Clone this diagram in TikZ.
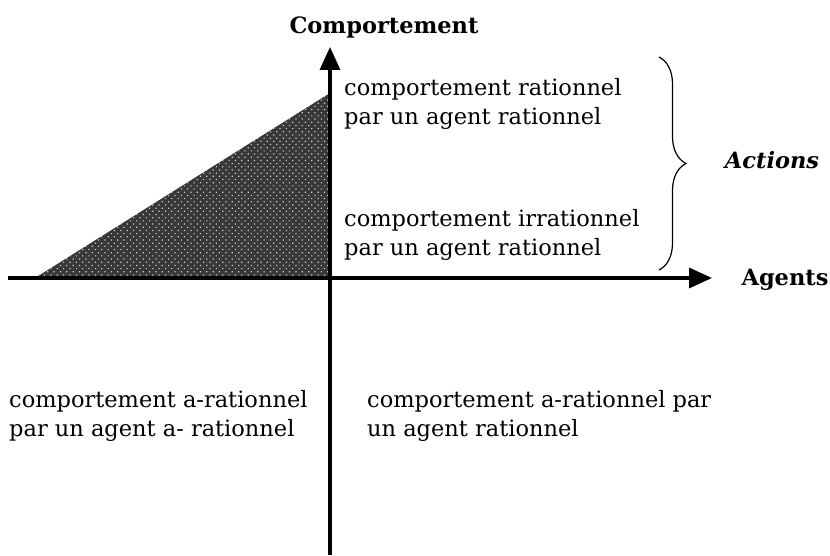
\documentclass[tikz,border=0pt]{standalone}
\usepackage{fontspec}
\setmainfont{DejaVu Serif}
\usetikzlibrary{arrows.meta,patterns.meta,decorations.pathreplacing}

\begin{document}
\begin{tikzpicture}[
  x=1pt,y=1pt,
  axis/.style={line width=3.5pt,-{Triangle[length=23pt,width=20pt]}},
  quad/.style={align=left,anchor=west,inner sep=0pt,
    font=\fontsize{22.5}{29.5}\selectfont},
  axlabel/.style={inner sep=0pt,font=\fontsize{22.5}{26}\selectfont\bfseries}
]
\useasboundingbox (0,0) rectangle (830,555);
% axes
\coordinate (O) at (330,277);
\coordinate (xl) at (8,277);
\coordinate (xr) at (712,277);
\coordinate (yb) at (330,0);
\coordinate (yt) at (330,508);
\coordinate (tl) at (35,277);
\coordinate (tt) at (330,462);
\fill[black!78] (tl) -- (O) -- (tt) -- cycle;
\fill[pattern={Dots[distance=4.5pt,radius=0.85pt,angle=45]},pattern color=white!80!black]
  (tl) -- (O) -- (tt) -- cycle;
\draw[axis] (xl) -- (xr);
\draw[axis] (yb) -- (yt);

\node[axlabel] (comp) at (384,528) {Comportement};
\node[axlabel] (agents) at (785,275) {Agents};

\node[quad] (rr) at (344,451) {comportement rationnel\\par un agent rationnel};
\node[quad] (ir) at (344,320) {comportement irrationnel\\par un agent rationnel};
\node[quad] (aa) at (9,139) {comportement a-rationnel\\par un agent a- rationnel};
\node[quad] (ar) at (367,139) {comportement a-rationnel par\\un agent rationnel};

% brace
\coordinate (bt) at (659,498);
\coordinate (bb) at (659,285);
\draw[line width=1.2pt,decorate,decoration={brace,amplitude=27pt}] (bt) -- (bb);
\node[axlabel,font=\fontsize{22.5}{26}\selectfont\bfseries\itshape] (act) at (772,395) {Actions};
\end{tikzpicture}
\end{document}
